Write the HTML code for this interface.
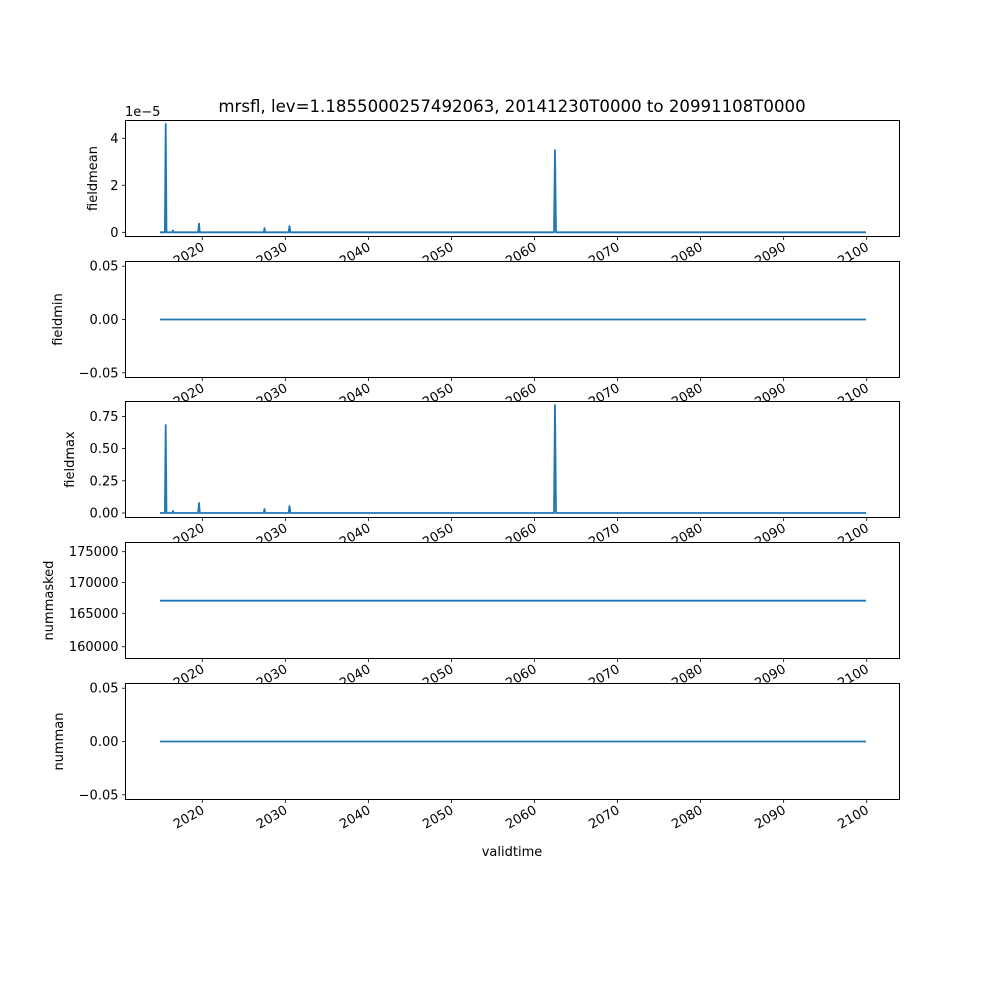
<!DOCTYPE html>
<html><head><style>body{margin:0;background:#fff}svg{display:block}text{font-family:"DejaVu Sans","Liberation Sans",sans-serif;font-size:13px;fill:#000}</style></head>
<body>
<svg width="1000" height="1000" xmlns="http://www.w3.org/2000/svg">
<rect width="1000" height="1000" fill="#fff"/>
<text x="512" y="112" text-anchor="middle" style="font-size:16.6px">mrsfl, lev=1.1855000257492063, 20141230T0000 to 20991108T0000</text>
<script>
const s=document.querySelector('svg');const NS='http://www.w3.org/2000/svg';
function el(t,a,txt){const e=document.createElementNS(NS,t);for(const k in a)e.setAttribute(k,a[k]);if(txt!==undefined)e.textContent=txt;s.appendChild(e);return e;}
const panels=[
 {top:120.5,bot:236.5,label:'fieldmean',lx:93,ticks:[[232.3,'0'],[185.3,'2'],[138.3,'4']]},
 {top:261.5,bot:377.5,label:'fieldmin',lx:58,ticks:[[266.2,'0.05'],[319.5,'0.00'],[372.8,'−0.05']]},
 {top:401.5,bot:517.5,label:'fieldmax',lx:70,ticks:[[513,'0.00'],[480.8,'0.25'],[448.6,'0.50'],[416.4,'0.75']]},
 {top:542.5,bot:658.5,label:'nummasked',lx:49,ticks:[[551.7,'175000'],[582.5,'170000'],[613.3,'165000'],[646.7,'160000']]},
 {top:683.5,bot:799.5,label:'numman',lx:59,ticks:[[688.2,'0.05'],[741.5,'0.00'],[794.8,'−0.05']]}
];
const L=125.5,R=899.5,blue='#1f77b4',X0=160,X1=866;
function spiky(base,sp){let d=`M${X0} ${base}`;sp.forEach(([x,y,w])=>{d+=` L${x-w} ${base} L${x} ${y} L${x+w} ${base}`;});d+=` L${X1} ${base}`;el('path',{d,fill:'none',stroke:blue,'stroke-width':1.8,'stroke-linejoin':'round'});}
const draws=[
 ()=>spiky(232.3,[[165.7,124,0.8],[173,230.5,0.8],[199,223.5,0.8],[264.5,228,0.7],[289.5,226,0.9],[555,150,1]]),
 ()=>el('line',{x1:X0,x2:X1,y1:319.5,y2:319.5,stroke:blue,'stroke-width':1.8}),
 ()=>spiky(513,[[165.7,425,0.8],[173,511,0.8],[199,503,0.8],[264.5,509,0.7],[289.5,506,0.9],[555,405,1]]),
 ()=>el('line',{x1:X0,x2:X1,y1:600.7,y2:600.7,stroke:blue,'stroke-width':1.8}),
 ()=>el('line',{x1:X0,x2:X1,y1:741.5,y2:741.5,stroke:blue,'stroke-width':1.8})
];
panels.forEach((p,i)=>{
 el('rect',{x:L,y:p.top,width:R-L,height:p.bot-p.top,fill:'#fff',stroke:'none'});
 draws[i]();
 el('rect',{x:L,y:p.top,width:R-L,height:p.bot-p.top,fill:'none',stroke:'#000','stroke-width':1});
 p.ticks.forEach(([y,t])=>{el('line',{x1:L-3.5,x2:L,y1:y,y2:y,stroke:'#000','stroke-width':0.8});el('text',{x:L-7,y:y+4.5,'text-anchor':'end'},t);});
 const cy=(p.top+p.bot)/2;
 el('text',{x:p.lx+4,y:cy,'text-anchor':'middle',transform:`rotate(-90 ${p.lx+4} ${cy})`},p.label);
 for(let k=0;k<9;k++){const x=202.3+k*83.05;el('line',{x1:x,x2:x,y1:p.bot,y2:p.bot+3.5,stroke:'#000','stroke-width':0.8});
  el('text',{x:x+3,y:p.bot+13,'text-anchor':'end',transform:`rotate(-30 ${x+3} ${p.bot+13})`},String(2020+k*10));}
});
el('text',{x:512,y:856,'text-anchor':'middle'},'validtime');
el('text',{x:125,y:116},'1e−5');
</script>
</svg>
</body></html>
